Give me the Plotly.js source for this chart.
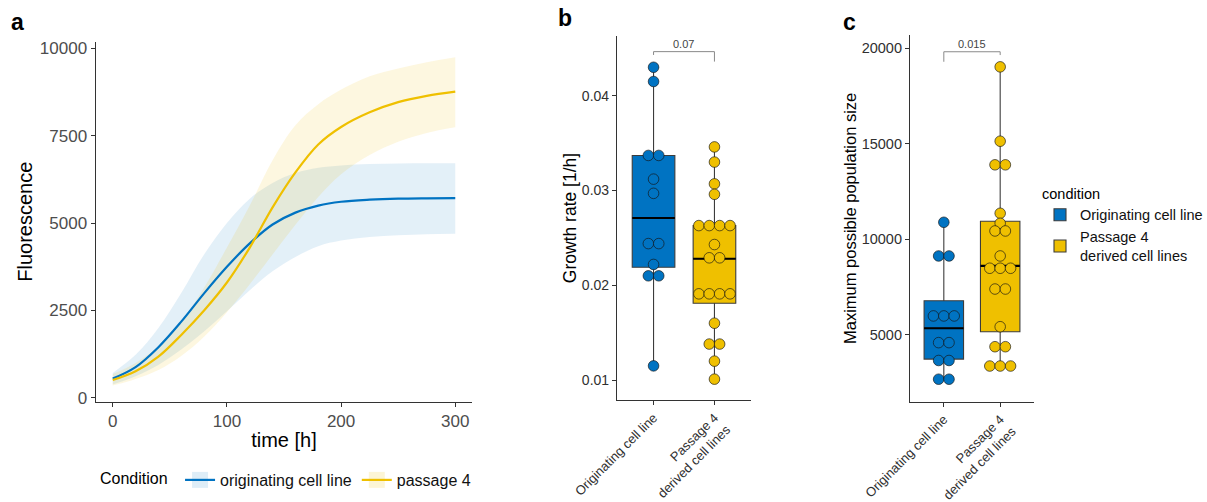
<!DOCTYPE html>
<html><head><meta charset="utf-8">
<script src="https://cdn.plot.ly/plotly-3.0.1.min.js"></script>
<style>html,body{margin:0;padding:0;background:#fff;} #chart{width:1207px;height:502px;}</style>
</head><body><div id="chart"></div>
<script>
// ---------- Panel a: growth curves ----------
const tHours = [0, 20, 40, 60, 80, 100, 120, 140, 160, 180, 200, 225, 250, 275, 300];
const origMean  = [550, 880, 1450, 2180, 2990, 3750, 4420, 4960, 5300, 5500, 5610, 5670, 5700, 5710, 5714];
const origUpper = [714, 1230, 2000, 3000, 4100, 5000, 5700, 6150, 6430, 6580, 6650, 6690, 6705, 6712, 6714];
const origLower = [380, 620, 940, 1380, 1900, 2480, 3080, 3620, 4030, 4340, 4500, 4600, 4650, 4680, 4694];
const p4Mean  = [510, 760, 1180, 1800, 2500, 3300, 4300, 5450, 6450, 7250, 7750, 8170, 8460, 8640, 8760];
const p4Upper = [680, 1000, 1480, 2180, 3150, 4300, 5500, 6800, 7800, 8400, 8820, 9200, 9420, 9600, 9743];
const p4Lower = [350, 540, 800, 1200, 1750, 2450, 3250, 4100, 4950, 5750, 6400, 6950, 7330, 7580, 7743];
const curveNames = ['originating cell line', 'passage 4'];
const xTicksA = [0, 100, 200, 300];
const yTicksA = [0, 2500, 5000, 7500, 10000];

// ---------- Panels b, c: box + dot plots ----------
const groups = ['Originating cell line', 'Passage 4<br>derived cell lines'];
const growthOrig = [0.0430, 0.0415, 0.0337, 0.0337, 0.0312, 0.0297, 0.0244, 0.0244, 0.0222, 0.0210, 0.0210, 0.0115];
const growthP4 = [0.0346, 0.0330, 0.0307, 0.0296, 0.0263, 0.0263, 0.0263, 0.0263, 0.0243, 0.0229, 0.0229,
                  0.0191, 0.0191, 0.0191, 0.0191, 0.0160, 0.0138, 0.0138, 0.0120, 0.0101];
// box statistics [lowerfence, q1, median, q3, upperfence]
const growthBoxOrig = [0.0115, 0.0219, 0.0271, 0.0337, 0.0430];
const growthBoxP4   = [0.0101, 0.0181, 0.0228, 0.0263, 0.0346];
const maxOrig = [10890, 9126, 9126, 5984, 5984, 5984, 4586, 4586, 3650, 3650, 2670, 2670];
const maxP4 = [19031, 15136, 13900, 13900, 11361, 10838, 10435, 10435, 9126, 8482, 8482, 8482, 7394, 7394,
               5419, 4372, 4372, 3361, 3361, 3361];
const maxBoxOrig = [2670, 3723, 5340, 6780, 10890];
const maxBoxP4   = [3361, 5157, 8602, 10948, 19031];
const yTicksB = [0.01, 0.02, 0.03, 0.04];
const yTicksC = [5000, 10000, 15000, 20000];
const pValues = ['0.07', '0.015'];
// bracket [left tip, bar, right tip]
const bracketB = [0.0443, 0.04465, 0.0436];
const bracketC = [19298, 19822, 19650];

const W = 1207, H = 502;
const BLUE = '#0073C2', YELLOW = '#EFC000';
const FONT = 'Liberation Sans, Arial, sans-serif';

const domA = {x: [95.6 / W, 472.4 / W], y: [1 - 401.7 / H, 1 - 41.7 / H]};
const domB = {x: [617 / W, 751 / W], y: [1 - 400 / H, 1 - 36 / H]};
const domC = {x: [910 / W, 1034 / W], y: [1 - 401.7 / H, 1 - 35 / H]};
const rangeCat = [-0.6, 1.6];
const boxW = 0.7;
const dotPx = 10.4;

function unitPerPx(dom, range) { return (range[1] - range[0]) / ((dom[1] - dom[0]) * W); }

function dodge(vals, center, step) {
  const xs = new Array(vals.length);
  let i = 0;
  while (i < vals.length) {
    let j = i;
    while (j + 1 < vals.length && vals[j + 1] === vals[i]) j++;
    const n = j - i + 1;
    for (let k = 0; k < n; k++) xs[i + k] = center + (k - (n - 1) / 2) * step;
    i = j + 1;
  }
  return xs;
}

const traces = [];
function ribbon(lower, upper, fillc) {
  traces.push({x: tHours, y: lower, mode: 'lines', line: {width: 0, shape: 'spline'}, showlegend: false, hoverinfo: 'skip', xaxis: 'x', yaxis: 'y'});
  traces.push({x: tHours, y: upper, mode: 'lines', line: {width: 0, shape: 'spline'}, fill: 'tonexty', fillcolor: fillc, showlegend: false, hoverinfo: 'skip', xaxis: 'x', yaxis: 'y'});
}
const fillBlue = 'rgba(0,115,194,0.11)', fillYellow = 'rgba(239,192,0,0.12)';
ribbon(origLower, origUpper, fillBlue);
ribbon(p4Lower, p4Upper, fillYellow);
traces.push({x: tHours, y: origMean, mode: 'lines', line: {color: BLUE, width: 2.2, shape: 'spline'}, showlegend: false, xaxis: 'x', yaxis: 'y'});
traces.push({x: tHours, y: p4Mean, mode: 'lines', line: {color: YELLOW, width: 2.2, shape: 'spline'}, showlegend: false, xaxis: 'x', yaxis: 'y'});
// legend proxies for panel a (light square key with the line through it)
[[curveNames[0], BLUE, 'rgba(0,115,194,0.13)'], [curveNames[1], YELLOW, 'rgba(239,192,0,0.16)']].forEach(([nm, c, f]) => {
  traces.push({x: [null], y: [null], name: nm, mode: 'lines+markers',
    marker: {symbol: 'square', size: 22, color: f, line: {width: 0}},
    line: {color: c, width: 2.2}, legend: 'legend', xaxis: 'x', yaxis: 'y'});
});

function boxPanel(xa, ya, dom, data, stats, showLeg) {
  const step = dotPx * unitPerPx(dom.x, rangeCat);
  const colors = [BLUE, YELLOW];
  data.forEach((vals, gi) => {
    const s = stats[gi];
    traces.push({type: 'box', x: [gi], lowerfence: [s[0]], q1: [s[1]], median: [s[2]], q3: [s[3]], upperfence: [s[4]],
      width: boxW, whiskerwidth: 0, fillcolor: colors[gi], line: {color: '#3c3c3c', width: 1.1},
      name: groups[gi], showlegend: showLeg, legend: 'legend2', boxpoints: false, hoverinfo: 'skip',
      xaxis: xa, yaxis: ya});
  });
  data.forEach((vals, gi) => {
    const s = stats[gi];
    traces.push({x: [gi - boxW / 2, gi + boxW / 2], y: [s[2], s[2]], mode: 'lines', line: {color: '#000', width: 2.2},
      showlegend: false, hoverinfo: 'skip', xaxis: xa, yaxis: ya});
  });
  data.forEach((vals, gi) => {
    traces.push({x: dodge(vals, gi, step), y: vals, mode: 'markers',
      marker: {size: 10.6, color: colors[gi], line: {color: 'rgba(20,20,20,0.65)', width: 1}},
      showlegend: false, hoverinfo: 'skip', xaxis: xa, yaxis: ya});
  });
}
boxPanel('x2', 'y2', domB, [growthOrig, growthP4], [growthBoxOrig, growthBoxP4], false);
boxPanel('x3', 'y3', domC, [maxOrig, maxP4], [maxBoxOrig, maxBoxP4], true);

const axBase = {showline: true, linecolor: '#333', linewidth: 1.1, ticks: 'outside', ticklen: 4, tickcolor: '#333',
  showgrid: false, zeroline: false, fixedrange: true, automargin: false};

const shapes = [];
const annotations = [];
[[bracketB, 'x2', 'y2', pValues[0]], [bracketC, 'x3', 'y3', pValues[1]]].forEach(([b, xr, yr, p]) => {
  shapes.push({type: 'path', xref: xr, yref: yr, path: `M 0,${b[0]} L 0,${b[1]} L 1,${b[1]} L 1,${b[2]}`,
    line: {color: '#8a8a8a', width: 1}});
  annotations.push({xref: xr, yref: yr, x: 0.5, y: b[1], text: p, showarrow: false, yanchor: 'bottom', yshift: 0,
    font: {family: FONT, size: 11, color: '#444'}});
});
[['a', 17, 22], ['b', 565, 18], ['c', 849, 22]].forEach(([t, px, py]) => {
  annotations.push({xref: 'paper', yref: 'paper', x: px / W, y: 1 - py / H, text: '<b>' + t + '</b>', showarrow: false,
    xanchor: 'center', yanchor: 'middle', font: {family: FONT, size: 23, color: '#000'}});
});

const layout = {
  width: W, height: H, margin: {l: 0, r: 0, t: 0, b: 0, autoexpand: false}, paper_bgcolor: '#fff', plot_bgcolor: '#fff',
  font: {family: FONT, color: '#000'},
  xaxis: Object.assign({}, axBase, {domain: domA.x, range: [-15, 315], anchor: 'y', tickvals: xTicksA,
    tickfont: {size: 17, color: '#4d4d4d'}, title: {text: 'time [h]', font: {size: 20, color: '#000'}, standoff: 2}}),
  yaxis: Object.assign({}, axBase, {domain: domA.y, range: [-110, 10190], anchor: 'x', tickvals: yTicksA, tickformat: 'd',
    tickfont: {size: 17, color: '#4d4d4d'}, title: {text: 'Fluorescence', font: {size: 20, color: '#000'}, standoff: 1}}),
  xaxis2: Object.assign({}, axBase, {domain: domB.x, range: rangeCat, anchor: 'y2', tickvals: [0, 1], ticktext: groups,
    tickangle: -45, tickfont: {size: 13, color: '#303030'}}),
  yaxis2: Object.assign({}, axBase, {domain: domB.y, range: [0.0079, 0.0463], anchor: 'x2', tickvals: yTicksB, tickformat: '.2f',
    tickfont: {size: 14, color: '#303030'}, title: {text: 'Growth rate [1/h]', font: {size: 17.5, color: '#000'}, standoff: 0}}),
  xaxis3: Object.assign({}, axBase, {domain: domC.x, range: rangeCat, anchor: 'y3', tickvals: [0, 1], ticktext: groups,
    tickangle: -45, tickfont: {size: 13, color: '#303030'}}),
  yaxis3: Object.assign({}, axBase, {domain: domC.y, range: [1492, 20700], anchor: 'x3', tickvals: yTicksC, tickformat: 'd',
    tickfont: {size: 14.5, color: '#303030'}, title: {text: 'Maximum possible population size', font: {size: 16.5, color: '#000'}, standoff: 0}}),
  legend: {orientation: 'h', x: 98 / W, xanchor: 'left', y: 1 - 480 / H, yanchor: 'middle', bgcolor: 'rgba(0,0,0,0)',
    traceorder: 'normal',
    title: {text: 'Condition ', side: 'left', font: {size: 16, color: '#000'}}, font: {size: 16, color: '#111'}, itemwidth: 30},
  legend2: {x: 1040 / W, xanchor: 'left', y: 1 - 180 / H, yanchor: 'top', bgcolor: 'rgba(0,0,0,0)', traceorder: 'normal',
    title: {text: 'condition', font: {size: 14.5, color: '#000'}}, font: {size: 14.5, color: '#111'}, tracegroupgap: 2},
  shapes: shapes, annotations: annotations, showlegend: true
};

Plotly.newPlot('chart', traces, layout, {displayModeBar: false, staticPlot: true});
</script></body></html>
